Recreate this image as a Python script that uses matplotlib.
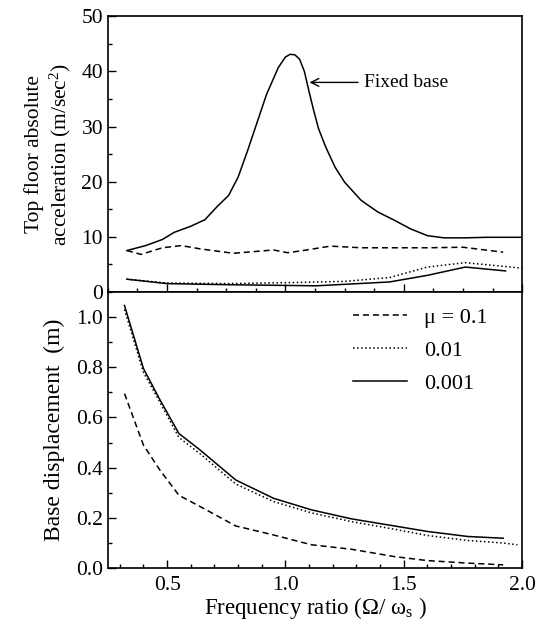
import numpy as np
import matplotlib.pyplot as plt
from matplotlib.ticker import MultipleLocator

plt.rcParams['font.family'] = ['Liberation Serif', 'DejaVu Serif']
plt.rcParams['mathtext.fontset'] = 'custom'
plt.rcParams['mathtext.rm'] = 'Liberation Serif'
plt.rcParams['mathtext.it'] = 'Liberation Serif'

# top panel: top floor absolute acceleration (m/sec^2)
fixed_x = [0.33, 0.41, 0.48, 0.53, 0.60, 0.66, 0.71, 0.76, 0.80, 0.84, 0.88, 0.92,
           0.97, 1.00, 1.02, 1.04, 1.06, 1.08, 1.10, 1.12, 1.14, 1.17, 1.21, 1.25,
           1.32, 1.39, 1.46, 1.53, 1.60, 1.67, 1.76, 1.85, 2.0]
fixed_y = [7.5, 8.4, 9.5, 10.8, 11.9, 13.1, 15.4, 17.5, 20.8, 25.6, 30.7, 35.8,
           40.7, 42.6, 43.1, 43.0, 42.2, 40.0, 36.3, 32.8, 29.6, 26.3, 22.6, 19.9,
           16.6, 14.5, 13.0, 11.4, 10.2, 9.8, 9.8, 9.9, 9.9]

acc1_x = [0.33, 0.39, 0.48, 0.56, 0.64, 0.78, 0.95, 1.01, 1.09, 1.19, 1.32, 1.46,
          1.60, 1.75, 1.92]
acc1_y = [7.5, 6.8, 8.0, 8.4, 7.8, 7.0, 7.6, 7.1, 7.6, 8.3, 8.0, 8.0, 8.0, 8.1, 7.2]

acc2_x = [0.33, 0.50, 0.76, 1.04, 1.25, 1.44, 1.60, 1.76, 1.88, 2.0]
acc2_y = [2.3, 1.6, 1.5, 1.7, 1.9, 2.6, 4.5, 5.3, 4.8, 4.3]

acc3_x = [0.33, 0.50, 0.76, 1.13, 1.44, 1.60, 1.76, 1.93]
acc3_y = [2.3, 1.5, 1.3, 1.1, 1.8, 3.0, 4.5, 3.8]

# bottom panel: base displacement (m)
d_x = [0.32, 0.40, 0.47, 0.55, 0.64, 0.79, 0.95, 1.11, 1.28, 1.46, 1.60, 1.77, 1.92]
d1_y = [0.695, 0.49, 0.39, 0.29, 0.245, 0.168, 0.132, 0.093, 0.075, 0.046, 0.030, 0.020, 0.013]
d2_x = d_x + [1.98]
d2_y = [1.03, 0.78, 0.66, 0.52, 0.455, 0.335, 0.265, 0.22, 0.185, 0.155, 0.13, 0.11, 0.10, 0.093]
d3_y = [1.046, 0.795, 0.67, 0.536, 0.47, 0.351, 0.278, 0.232, 0.196, 0.168, 0.146, 0.126, 0.119]

fig = plt.figure(figsize=(5.45, 6.25), dpi=100)
ax1 = fig.add_axes([0.198, 0.533, 0.76, 0.441])
ax2 = fig.add_axes([0.198, 0.091, 0.76, 0.442])

lw = 1.1
ax1.plot(fixed_x, fixed_y, 'k-', lw=lw)
ax1.plot(acc1_x, acc1_y, 'k--', lw=lw, dashes=(4, 2.5))
ax1.plot(acc2_x, acc2_y, 'k:', lw=lw)
ax1.plot(acc3_x, acc3_y, 'k-', lw=lw)
ax1.annotate('Fixed base', xy=(1.09, 38.0), xytext=(1.33, 38.0),
             fontsize=14, va='center',
             arrowprops=dict(arrowstyle='->', color='k', lw=1.0))

ax2.plot(d_x, d1_y, 'k--', lw=lw, dashes=(4, 2.5), label='\u03bc = 0.1')
ax2.plot(d2_x, d2_y, 'k:', lw=lw, label='0.01')
ax2.plot(d_x, d3_y, 'k-', lw=lw, label='0.001')
ax2.legend(loc='upper right', frameon=False, fontsize=16, handlelength=2.4,
           handletextpad=0.8, labelspacing=0.55, borderaxespad=0.4,
           borderpad=0.3, bbox_to_anchor=(0.955, 1.0))

for ax in (ax1, ax2):
    ax.set_xlim(0.25, 2.0)
    ax.xaxis.set_major_locator(MultipleLocator(0.5))
    ax.tick_params(which='both', direction='in', labelsize=15.5, width=1.0)
    ax.tick_params(which='major', length=6)
    ax.tick_params(which='minor', length=3)
    for s in ax.spines.values():
        s.set_linewidth(1.2)

ax1.xaxis.set_minor_locator(MultipleLocator(0.125))
ax2.xaxis.set_minor_locator(MultipleLocator(0.1))

ax1.set_ylim(0, 50)
ax1.yaxis.set_major_locator(MultipleLocator(10))
ax1.yaxis.set_minor_locator(MultipleLocator(5))
ax1.tick_params(axis='x', labelbottom=False)
ax1.set_ylabel('Top floor absolute\nacceleration (m/sec$^2$)', fontsize=15.5,
               labelpad=6)

ax2.set_ylim(0, 1.1)
ax2.yaxis.set_minor_locator(MultipleLocator(0.1))
ax2.set_yticks([0.0, 0.2, 0.4, 0.6, 0.8, 1.0])
ax2.set_yticklabels(['0.0', '0.2', '0.4', '0.6', '0.8', '1.0'])
ax2.set_ylabel('Base displacement  (m)', fontsize=17, labelpad=8)
ax2.set_xticks([0.5, 1.0, 1.5, 2.0])
ax2.set_xticklabels(['0.5', '1.0', '1.5', '2.0'])
ax2.tick_params(axis='x', pad=6)
ax2.set_xlabel(r'Frequency ratio ($\Omega$/ $\omega_{\rm s}$ )', fontsize=16.5,
               labelpad=0)

fig.savefig('out.png', dpi=100)
